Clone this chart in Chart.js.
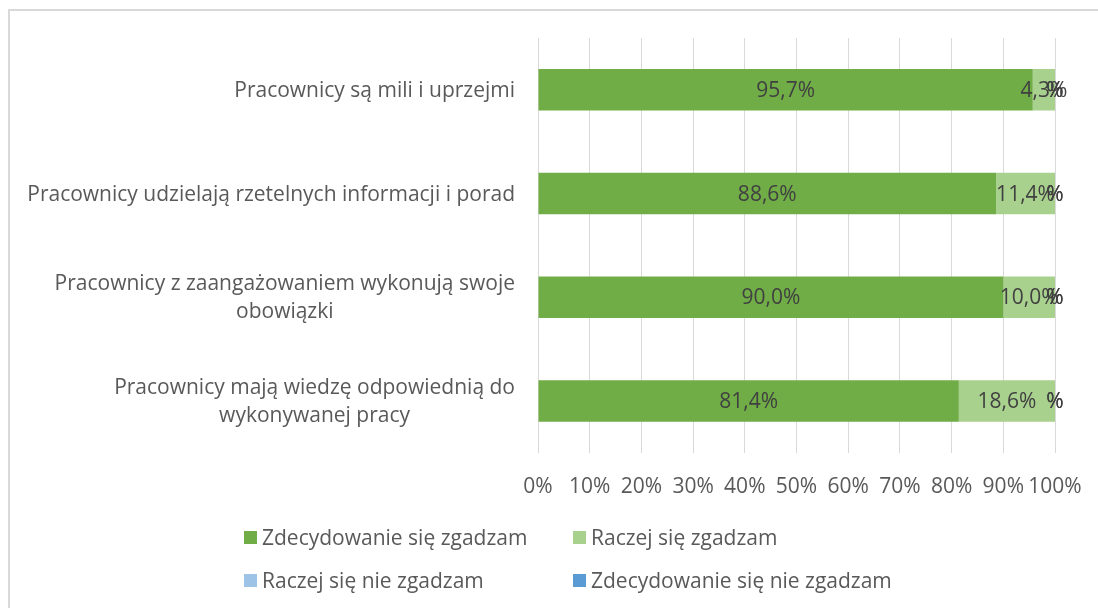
<!DOCTYPE html>
<html lang="pl">
<head>
    <meta charset="UTF-8">
    <title>Ocena pracowników</title>
    <style>
        body { margin: 0; background: #fff; }
        #wrap { position: relative; width: 1098px; height: 608px; overflow: hidden; font-family: "Open Sans", Lato, sans-serif; }
        #frame { position: absolute; left: 8px; top: 9px; width: 1200px; height: 700px; border-left: 2px solid #d9d9d9; border-top: 2px solid #d9d9d9; }
        canvas { position: absolute; left: 0; top: 0; }
        .leg { position: absolute; display: flex; align-items: center; font-size: 21px; color: #595959; white-space: nowrap; }
        .leg span.box { width: 13px; height: 13px; margin-right: 5px; display: inline-block; }
    </style>
</head>
<body>
<div id="wrap">
    <div id="frame"></div>
    <canvas id="chart" width="1098" height="608"></canvas>
    <div id="legend"></div>
</div>

<script src="https://cdn.jsdelivr.net/npm/chart.js"></script>
<script>
    // dane (%)
    const kategorie = [
        ['Pracownicy są mili i uprzejmi'],
        ['Pracownicy udzielają rzetelnych informacji i porad'],
        ['Pracownicy z zaangażowaniem wykonują swoje', 'obowiązki'],
        ['Pracownicy mają wiedzę odpowiednią do', 'wykonywanej pracy']
    ];
    const serie = ['Zdecydowanie się zgadzam', 'Raczej się zgadzam', 'Raczej się nie zgadzam', 'Zdecydowanie się nie zgadzam'];
    const zdecydowanieTak = [95.7, 88.6, 90.0, 81.4];
    const raczejTak = [4.3, 11.4, 10.0, 18.6];
    const raczejNie = [0, 0, 0, 0];
    const zdecydowanieNie = [0, 0, 0, 0];
    const kolory = ['#70ad47', '#a9d18e', '#9dc3e6', '#5b9bd5'];
    const wartosci = [zdecydowanieTak, raczejTak, raczejNie, zdecydowanieNie];

    const FONT = '"Open Sans", Lato, sans-serif';
    const ROZMIAR = 21;

    // etykiety danych na słupkach
    const etykietyPlugin = {
        id: 'etykiety',
        afterDatasetsDraw(chart) {
            const ctx = chart.ctx;
            ctx.save();
            ctx.font = ROZMIAR + 'px ' + FONT;
            ctx.fillStyle = '#404040';
            ctx.textAlign = 'center';
            ctx.textBaseline = 'middle';
            chart.data.datasets.forEach((ds, i) => {
                const meta = chart.getDatasetMeta(i);
                meta.data.forEach((bar, j) => {
                    const v = ds.data[j];
                    const txt = v > 0 ? v.toFixed(1).replace('.', ',') + '%' : '%';
                    ctx.fillText(txt, (bar.x + bar.base) / 2, bar.y + 1);
                });
            });
            ctx.restore();
        }
    };

    // etykiety kategorii (wyśrodkowane wiersze, blok do prawej)
    const kategoriePlugin = {
        id: 'kategorie',
        afterDraw(chart) {
            const ctx = chart.ctx;
            const y = chart.scales.y;
            const prawa = 515;
            ctx.save();
            ctx.font = ROZMIAR + 'px ' + FONT;
            ctx.fillStyle = '#595959';
            ctx.textAlign = 'center';
            ctx.textBaseline = 'middle';
            kategorie.forEach((linie, j) => {
                const szer = Math.max(...linie.map(l => ctx.measureText(l).width));
                const cx = prawa - szer / 2;
                const yc = y.getPixelForValue(j) + 1;
                const lh = 28;
                linie.forEach((l, k) => {
                    ctx.fillText(l, cx, yc + (k - (linie.length - 1) / 2) * lh);
                });
            });
            ctx.restore();
        }
    };

    const ctx = document.getElementById('chart').getContext('2d');
    const chart = new Chart(ctx, {
        type: 'bar',
        data: {
            labels: kategorie.map(k => k.join(' ')),
            datasets: serie.map((s, i) => ({
                label: s,
                data: wartosci[i],
                backgroundColor: kolory[i],
                barPercentage: 0.4,
                categoryPercentage: 1.0
            }))
        },
        options: {
            indexAxis: 'y',
            responsive: false,
            animation: false,
            layout: { padding: { left: 538, right: 43, top: 38, bottom: 86 } },
            plugins: {
                legend: { display: false },
                tooltip: { enabled: false }
            },
            scales: {
                x: {
                    stacked: true,
                    min: 0,
                    max: 100,
                    afterFit(scale) {
                        scale.paddingLeft = 0;
                        scale.paddingRight = 0;
                    },
                    ticks: {
                        stepSize: 10,
                        padding: 22,
                        maxRotation: 0,
                        minRotation: 0,
                        autoSkip: false,
                        color: '#595959',
                        font: { family: FONT, size: ROZMIAR },
                        callback: v => v + '%'
                    },
                    grid: { color: '#d9d9d9', drawTicks: false },
                    border: { display: false }
                },
                y: {
                    display: false,
                    stacked: true
                }
            }
        },
        plugins: [etykietyPlugin, kategoriePlugin]
    });

    // legenda w dwóch kolumnach
    const pozycje = [[244, 537], [573, 537], [244, 580], [573, 580]];
    const leg = document.getElementById('legend');
    serie.forEach((s, i) => {
        const d = document.createElement('div');
        d.className = 'leg';
        d.style.left = pozycje[i][0] + 'px';
        d.style.top = (pozycje[i][1] - 14) + 'px';
        d.style.height = '28px';
        d.innerHTML = '<span class="box" style="background:' + kolory[i] + '"></span>' + s;
        leg.appendChild(d);
    });
</script>
</body>
</html>
